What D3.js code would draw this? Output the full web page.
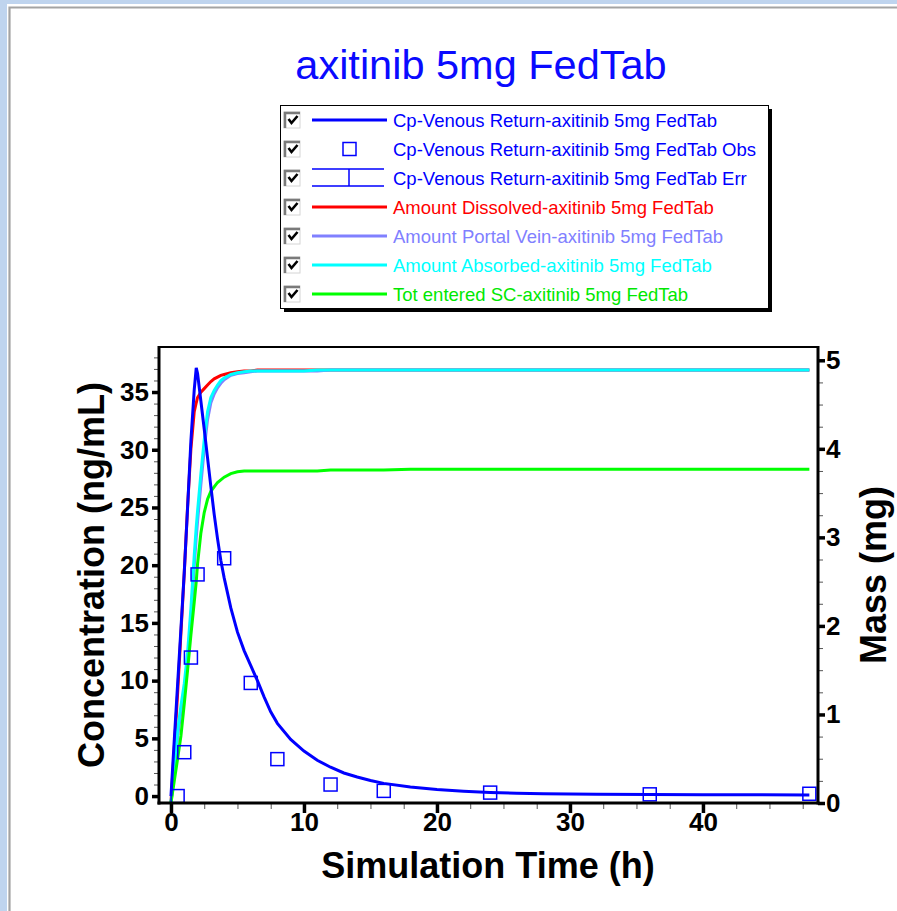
<!DOCTYPE html>
<html>
<head>
<meta charset="utf-8">
<script src="https://cdn.jsdelivr.net/npm/d3@7"></script>
<style>
  html, body { margin: 0; padding: 0; background: #bfd4ee; }
  svg { display: block; font-family: "Liberation Sans", Arial, sans-serif; }
</style>
</head>
<body>
<svg id="chart" width="897" height="911"></svg>
<script>
// Simulation output (hours) shared by every simulated curve
const hours = [0, 0.25, 0.5, 0.75, 1, 1.25, 1.5, 1.75, 1.9, 2, 2.25, 2.5, 2.75, 3, 3.25, 3.5, 3.75,
  4, 4.5, 5, 5.5, 6, 6.5, 7, 7.5, 8, 9, 10, 11, 12, 13, 14, 15, 16, 18, 20, 22, 24, 26, 28,
  32, 36, 40, 44, 48];

// Cp-Venous Return (ng/mL), left axis
const cpVenous = [0, 4.9, 9.7, 14.5, 19.4, 25.0, 30.8, 35.2, 37.1, 36.6, 34.2, 31.8, 29.3, 26.8, 24.4, 22.3, 20.4,
  18.9, 16.3, 14.2, 12.6, 11.3, 10.0, 8.6, 7.3, 6.3, 4.9, 3.9, 3.1, 2.5, 2.0, 1.65, 1.35, 1.1, 0.78, 0.56, 0.42, 0.32, 0.25, 0.21,
  0.16, 0.13, 0.12, 0.11, 0.1];

// Amounts (mg), right axis
const amtDissolved = [0, 0.62, 1.24, 1.92, 2.6, 3.35, 4.0, 4.42, 4.52, 4.58, 4.64, 4.68, 4.72, 4.76, 4.79, 4.81, 4.83,
  4.84, 4.86, 4.87, 4.88, 4.88, 4.89, 4.89, 4.89, 4.89, 4.89, 4.89, 4.89, 4.89, 4.89, 4.89, 4.89, 4.89, 4.89, 4.89, 4.89, 4.89, 4.89, 4.89,
  4.89, 4.89, 4.89, 4.89, 4.89];
const amtPortalVein = [0, 0.35, 0.75, 1.03, 1.28, 1.6, 2.08, 2.68, 3.0, 3.18, 3.6, 4.0, 4.33, 4.52, 4.62, 4.69, 4.74,
  4.78, 4.83, 4.85, 4.86, 4.87, 4.88, 4.88, 4.88, 4.88, 4.88, 4.88, 4.88, 4.89, 4.89, 4.89, 4.89, 4.89, 4.89, 4.89, 4.89, 4.89, 4.89, 4.89,
  4.89, 4.89, 4.89, 4.89, 4.89];
const amtAbsorbed = [0, 0.4, 0.82, 1.1, 1.35, 1.7, 2.2, 2.8, 3.12, 3.3, 3.72, 4.1, 4.42, 4.58, 4.66, 4.72, 4.77,
  4.8, 4.84, 4.86, 4.87, 4.88, 4.88, 4.88, 4.88, 4.88, 4.88, 4.88, 4.89, 4.89, 4.89, 4.89, 4.89, 4.89, 4.89, 4.89, 4.89, 4.89, 4.89, 4.89,
  4.89, 4.89, 4.89, 4.89, 4.89];
const totEnteredSC = [0, 0.25, 0.5, 0.76, 1.12, 1.5, 1.9, 2.27, 2.5, 2.7, 3.05, 3.28, 3.43, 3.52, 3.57, 3.62, 3.65,
  3.68, 3.72, 3.74, 3.75, 3.75, 3.75, 3.75, 3.75, 3.75, 3.75, 3.75, 3.75, 3.76, 3.76, 3.76, 3.76, 3.76, 3.77, 3.77, 3.77, 3.77, 3.77, 3.77,
  3.77, 3.77, 3.77, 3.77, 3.77];

// Observed plasma concentrations
const obsHours = [0.5, 1, 1.5, 2, 4, 6, 8, 12, 16, 24, 36, 48];
const obsCp = [0.0, 3.8, 12.0, 19.2, 20.6, 9.8, 3.2, 1.0, 0.45, 0.3, 0.15, 0.2];

// Axis ticks
const xTicks = [0, 10, 20, 30, 40];
const yLeftTicks = [0, 5, 10, 15, 20, 25, 30, 35];
const yRightTicks = [0, 1, 2, 3, 4, 5];

const chartTitle = "axitinib 5mg FedTab";
const legendLabels = [
  "Cp-Venous Return-axitinib 5mg FedTab",
  "Cp-Venous Return-axitinib 5mg FedTab Obs",
  "Cp-Venous Return-axitinib 5mg FedTab Err",
  "Amount Dissolved-axitinib 5mg FedTab",
  "Amount Portal Vein-axitinib 5mg FedTab",
  "Amount Absorbed-axitinib 5mg FedTab",
  "Tot entered SC-axitinib 5mg FedTab"
];

const C = {
  blue: "#0000ff", red: "#ff0000", violet: "#8080ff", cyan: "#00ffff", green: "#00ff00"
};

const svg = d3.select("#chart");

// Window frame
svg.append("rect").attr("width", 897).attr("height", 911).attr("fill", "#bfd4ee");
svg.append("rect").attr("x", 7).attr("y", 4).attr("width", 890).attr("height", 907).attr("fill", "#ffffff");
svg.append("path").attr("d", "M9.5,911V7.5H897").attr("fill", "none")
  .attr("stroke", "#a3a3a3").attr("stroke-width", 2.2);

const plot = { left: 159, top: 347, right: 818, bottom: 803 };
const x = d3.scaleLinear().domain([-0.9, 48.65]).range([plot.left, plot.right]);
const yL = d3.scaleLinear().domain([-0.6, 38.9]).range([plot.bottom, plot.top]);
const yR = d3.scaleLinear().domain([0, 5.15]).range([plot.bottom, plot.top]);

// Title
svg.append("text").attr("x", 481).attr("y", 79).attr("text-anchor", "middle")
  .attr("font-size", 41.5).attr("fill", "#0a0aff").text(chartTitle);

// Legend
const lg = svg.append("g");
const lgBox = { x: 280, y: 105, w: 488, h: 203 };
lg.append("rect").attr("x", lgBox.x + 4).attr("y", lgBox.y + 4).attr("width", lgBox.w).attr("height", lgBox.h).attr("fill", "#000");
lg.append("rect").attr("x", lgBox.x + 0.5).attr("y", lgBox.y + 0.5).attr("width", lgBox.w).attr("height", lgBox.h)
  .attr("fill", "#fff").attr("stroke", "#000").attr("stroke-width", 1);
const legendColors = [C.blue, C.blue, C.blue, C.red, C.violet, C.cyan, "#00e800"];
const lineColors = [C.blue, C.blue, C.blue, C.red, C.violet, C.cyan, C.green];
legendLabels.forEach((lab, i) => {
  const cy = 120 + i * 29;
  const row = lg.append("g");
  // checkbox
  row.append("rect").attr("x", 284).attr("y", cy - 8).attr("width", 16).attr("height", 16).attr("fill", "#fff")
    .attr("stroke", "#d4d4d4").attr("stroke-width", 1);
  row.append("path").attr("d", `M285,${cy + 8}V${cy - 7}H300`).attr("fill", "none").attr("stroke", "#7a7a7a").attr("stroke-width", 2.5);
  row.append("path").attr("d", `M288.5,${cy - 1}L291.5,${cy + 3}L297.5,${cy - 4}`).attr("fill", "none")
    .attr("stroke", "#000").attr("stroke-width", 2.6);
  // symbol
  if (i === 1) {
    row.append("rect").attr("x", 343).attr("y", cy - 6.5).attr("width", 13).attr("height", 13)
      .attr("fill", "none").attr("stroke", C.blue).attr("stroke-width", 1.5);
  } else if (i === 2) {
    row.append("path").attr("d", `M312,${cy - 9}H384M312,${cy + 8}H384M349,${cy - 9}V${cy + 8}`)
      .attr("fill", "none").attr("stroke", C.blue).attr("stroke-width", 1.5);
  } else {
    row.append("line").attr("x1", 312).attr("x2", 387).attr("y1", cy).attr("y2", cy)
      .attr("stroke", lineColors[i]).attr("stroke-width", 3);
  }
  row.append("text").attr("x", 393).attr("y", cy + 6.5).attr("font-size", 18.5)
    .attr("fill", legendColors[i]).text(lab);
});

// Clip for plotted data
svg.append("clipPath").attr("id", "plotclip").append("rect")
  .attr("x", plot.left).attr("y", plot.top - 2).attr("width", plot.right - plot.left).attr("height", plot.bottom - plot.top + 2);
const data = svg.append("g").attr("clip-path", "url(#plotclip)");

const massLine = (arr) => d3.line().x((d, i) => x(hours[i])).y(d => yR(d))(arr);
const concLine = d3.line().x((d, i) => x(hours[i])).y(d => yL(d));

data.append("path").attr("d", massLine(amtDissolved)).attr("fill", "none").attr("stroke", C.red).attr("stroke-width", 3);
data.append("path").attr("d", massLine(amtPortalVein)).attr("fill", "none").attr("stroke", C.violet).attr("stroke-width", 3);
data.append("path").attr("d", massLine(amtAbsorbed)).attr("fill", "none").attr("stroke", C.cyan).attr("stroke-width", 3);
data.append("path").attr("d", massLine(totEnteredSC)).attr("fill", "none").attr("stroke", C.green).attr("stroke-width", 3);
data.append("path").attr("d", concLine(cpVenous)).attr("fill", "none").attr("stroke", C.blue).attr("stroke-width", 3);

svg.append("g").selectAll("rect").data(obsHours).join("rect")
  .attr("x", (d) => x(d) - 6.5).attr("y", (d, i) => yL(obsCp[i]) - 6.5)
  .attr("width", 13).attr("height", 13)
  .attr("fill", "none").attr("stroke", C.blue).attr("stroke-width", 1.5);

// Axes
const range = (a, b, s) => d3.range(a, b + 1e-9, s);
const xMinor = range(0, 47.5, 2.5).filter(v => v % 10 !== 0);
const yLMinor = range(0, 38, 1).filter(v => v % 5 !== 0);
const yRMinor = range(0, 5, 0.25).filter(v => Math.abs(v - Math.round(v)) > 1e-9);

function styleMinor(g) {
  g.select(".domain").remove();
  g.selectAll("line").attr("stroke", "#555").attr("stroke-width", 1);
  g.selectAll("text").remove();
}
function styleMajor(g, size) {
  g.select(".domain").remove();
  g.selectAll("line").attr("stroke", "#000").attr("stroke-width", 3.5);
  g.selectAll("text").attr("font-size", size).attr("font-weight", "bold").attr("fill", "#000")
    .attr("font-family", "'Liberation Sans', Arial, sans-serif");
}

svg.append("g").attr("transform", `translate(0,${plot.bottom})`)
  .call(d3.axisBottom(x).tickValues(xMinor).tickSize(6)).call(styleMinor);
svg.append("g").attr("transform", `translate(0,${plot.bottom})`)
  .call(d3.axisBottom(x).tickValues(xTicks).tickSize(10).tickPadding(0).tickFormat(d3.format("d")))
  .call(g => styleMajor(g, 26));

svg.append("g").attr("transform", `translate(${plot.left},0)`)
  .call(d3.axisLeft(yL).tickValues(yLMinor).tickSize(5)).call(styleMinor);
svg.append("g").attr("transform", `translate(${plot.left},0)`)
  .call(d3.axisLeft(yL).tickValues(yLeftTicks).tickSize(7).tickPadding(3).tickFormat(d3.format("d")))
  .call(g => styleMajor(g, 26));

svg.append("g").attr("transform", `translate(${plot.right},0)`)
  .call(d3.axisRight(yR).tickValues(yRMinor).tickSize(5)).call(styleMinor);
svg.append("g").attr("transform", `translate(${plot.right},0)`)
  .call(d3.axisRight(yR).tickValues(yRightTicks).tickSize(7).tickPadding(1).tickFormat(d3.format("d")))
  .call(g => styleMajor(g, 26));

// Plot frame
const frame = svg.append("g").attr("fill", "none").attr("stroke", "#000");
frame.append("line").attr("x1", plot.left).attr("x2", plot.right).attr("y1", plot.top).attr("y2", plot.top).attr("stroke-width", 2);
frame.append("line").attr("x1", plot.left).attr("x2", plot.left).attr("y1", plot.top - 1).attr("y2", plot.bottom + 1.5).attr("stroke-width", 3);
frame.append("line").attr("x1", plot.right).attr("x2", plot.right).attr("y1", plot.top - 1).attr("y2", plot.bottom + 1.5).attr("stroke-width", 3);
frame.append("line").attr("x1", plot.left - 1.5).attr("x2", plot.right + 1.5).attr("y1", plot.bottom).attr("y2", plot.bottom).attr("stroke-width", 3);

// Axis titles
svg.append("text").attr("x", 488).attr("y", 878).attr("text-anchor", "middle")
  .attr("font-size", 36).attr("font-weight", "bold").text("Simulation Time (h)");
svg.append("text").attr("transform", "translate(104,575) rotate(-90)").attr("text-anchor", "middle")
  .attr("font-size", 36).attr("font-weight", "bold").text("Concentration (ng/mL)");
svg.append("text").attr("transform", "translate(886,575) rotate(-90)").attr("text-anchor", "middle")
  .attr("font-size", 36).attr("font-weight", "bold").text("Mass (mg)");
</script>
</body>
</html>
